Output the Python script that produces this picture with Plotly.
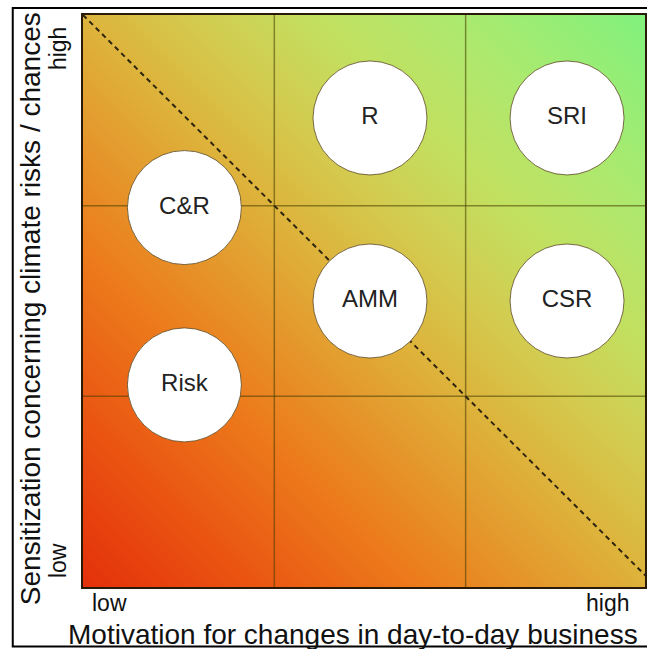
"""Portfolio matrix: motivation vs. sensitization, with a red-to-green gradient"""
import plotly.graph_objects as go

# ── data ──
labels = ["C&R", "Risk", "R", "AMM", "SRI", "CSR"]
motivation = [0.53, 0.53, 1.5, 1.5, 2.53, 2.53]
sensitization = [1.99, 1.06, 2.46, 1.5, 2.46, 1.5]

# background gradient: corner values, smoothed by plotly
grad_x = [0, 3]
grad_y = [0, 3]
grad_z = [[0, 1], [1, 2]]

grid_pos = [1, 2]
diag_x = [0, 3]
diag_y = [3, 0]

tick_low = "low"
tick_high = "high"
x_title = "Motivation for changes in day-to-day business"
y_title = "Sensitization concerning climate risks / chances"

FONT = "Arial, Liberation Sans, sans-serif"

W, H = 647, 649
L, T, B = 83, 15, 62
PW, PH = W - L, H - T - B
X_MAX = PW / 192


def px(xp):
    return (xp - L) / PW


def py(yp):
    return (H - B - yp) / PH


fig = go.Figure()

# ── 渐变背景 ──
fig.add_trace(go.Heatmap(
    x=grad_x, y=grad_y, z=grad_z,
    zmin=0, zmax=2, zsmooth="best", showscale=False, hoverinfo="skip",
    colorscale=[
        [0.0, "#e4300a"],
        [0.15, "#ea5512"],
        [0.3, "#ec7c1c"],
        [0.5, "#ddb43c"],
        [0.6, "#d2cc50"],
        [0.7, "#c2e060"],
        [0.82, "#ace96e"],
        [1.0, "#7ef27e"],
    ],
))

# ── 网格线（画在渐变之上、圆圈之下） ──
gx, gy = [], []
for g in grid_pos:
    gx += [g, g, None, 0, 3, None]
    gy += [0, 3, None, g, g, None]
fig.add_trace(go.Scatter(
    x=gx, y=gy, mode="lines", hoverinfo="skip", showlegend=False,
    line=dict(color="rgba(70,60,0,0.55)", width=1.5),
))

# ── 对角虚线 ──
fig.add_trace(go.Scatter(
    x=diag_x, y=diag_y, mode="lines", hoverinfo="skip", showlegend=False,
    line=dict(color="#2e2410", width=2, dash="5px,4px"),
))

# ── 圆圈 ──
fig.add_trace(go.Scatter(
    x=motivation, y=sensitization, mode="markers+text", text=labels,
    textposition="middle center", showlegend=False, hoverinfo="text",
    textfont=dict(family=FONT, size=24, color="#222222"),
    marker=dict(size=114, color="white", line=dict(color="rgba(90,70,30,0.8)", width=1)),
))

annotations = [
    dict(text=tick_low, x=px(90), y=py(603), xanchor="left", yanchor="middle",
         font=dict(size=23)),
    dict(text=tick_high, x=px(633), y=py(603), xanchor="right", yanchor="middle",
         font=dict(size=23)),
    dict(text=tick_low, x=px(58), y=py(561), textangle=-90, xanchor="center",
         yanchor="middle", font=dict(size=23)),
    dict(text=tick_high, x=px(58), y=py(49), textangle=-90, xanchor="center",
         yanchor="middle", font=dict(size=23)),
    dict(text=x_title, x=px(354), y=py(634), xanchor="center", yanchor="middle",
         font=dict(size=28)),
    dict(text=y_title, x=px(30), y=py(309), textangle=-90, xanchor="center",
         yanchor="middle", font=dict(size=28)),
]
for a in annotations:
    a.update(xref="paper", yref="paper", showarrow=False)
    a["font"].update(family=FONT, color="#111111")

fig.update_layout(
    width=W, height=H,
    margin=dict(l=L, r=0, t=T, b=B),
    paper_bgcolor="white", plot_bgcolor="white",
    font=dict(family=FONT),
    annotations=annotations,
    shapes=[dict(
        type="rect", xref="paper", yref="paper",
        x0=px(12.5), x1=px(W + 20), y0=py(646.5), y1=py(8),
        line=dict(color="black", width=2), fillcolor="rgba(0,0,0,0)", layer="above",
    )],
)

axis_style = dict(
    showticklabels=False, ticks="", showgrid=False, zeroline=False,
    showline=True, mirror=True, linecolor="#2a1a08", linewidth=2,
)
fig.update_xaxes(range=[0, X_MAX], **axis_style)
fig.update_yaxes(range=[0, 3], **axis_style)

fig.write_html(
    "out.html",
    config={"displayModeBar": False},
    post_script="document.body.style.margin='0';document.body.style.overflow='hidden';",
)
